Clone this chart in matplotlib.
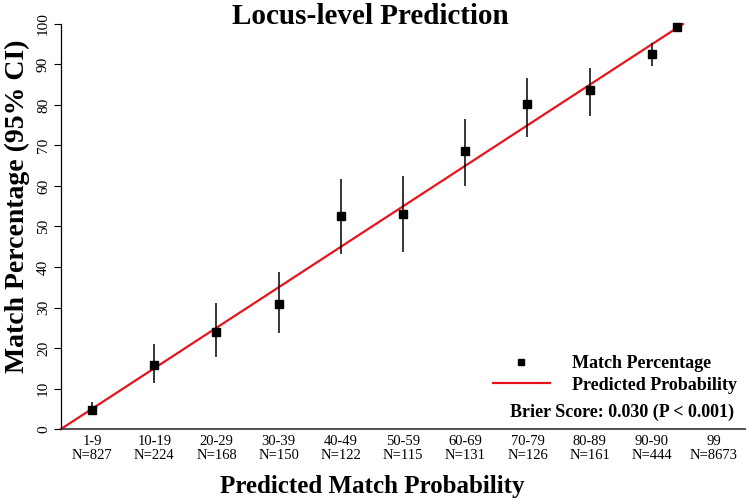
import matplotlib
matplotlib.use("Agg")
import matplotlib.pyplot as plt
from matplotlib.lines import Line2D

# ---- data ----
bin_labels = ["1-9", "10-19", "20-29", "30-39", "40-49", "50-59",
              "60-69", "70-79", "80-89", "90-90", "99"]
bin_counts = [827, 224, 168, 150, 122, 115, 131, 126, 161, 444, 8673]
pred_prob = [5, 15, 25, 35, 45, 55, 65, 75, 85, 95, 99]
match_pct = [4.6, 15.7, 24.0, 30.8, 52.6, 53.2, 68.7, 80.2, 83.7, 92.6, 99.3]
ci_low = [3.4, 11.3, 17.7, 23.6, 43.2, 43.6, 60.0, 72.2, 77.3, 89.7, 99.0]
ci_high = [6.6, 21.1, 31.0, 38.8, 61.7, 62.5, 76.5, 86.7, 89.2, 95.3, 99.6]
label_pos = [5, 15, 25, 35, 45, 55, 65, 75, 85, 95, 105]
ideal_x = [0, 100]
ideal_y = [0, 100]
y_ticks = [0, 10, 20, 30, 40, 50, 60, 70, 80, 90, 100]

plt.rcParams['font.family'] = ['Liberation Serif', 'DejaVu Serif']

fig = plt.figure(figsize=(7.46, 5.01), dpi=100)
ax = fig.add_axes([61/746, 1 - 429/501, 1 - 61/746, (429 - 24)/501])

ax.plot(ideal_x, ideal_y, color='#e8141c', lw=1.6, zorder=2, clip_on=False)
ax.vlines(pred_prob, ci_low, ci_high, color='black', lw=1.1, zorder=3)
ax.plot(pred_prob, match_pct, linestyle='none', marker='s', ms=6.2,
        color='black', zorder=4, clip_on=False)

ax.set_xlim(0, 685/6.22)
ax.set_ylim(0, 100)
ax.set_yticks(y_ticks)
ax.set_yticklabels([str(v) for v in y_ticks], rotation=90, va='center',
                   fontsize=11)
ax.tick_params(axis='y', direction='out', length=5, width=0.8, pad=3)
ax.set_xticks(label_pos)
ax.set_xticklabels([f"{l}\nN={n}" for l, n in zip(bin_labels, bin_counts)],
                   fontsize=10.5, linespacing=1.15)
ax.tick_params(axis='x', length=0, pad=4)

for s in ['top', 'right']:
    ax.spines[s].set_visible(False)
ax.spines['left'].set_linewidth(0.9)
ax.spines['bottom'].set_linewidth(1.2)
ax.spines['bottom'].set_color('#333333')

fig.text(370/746, 1 - 16/501, "Locus-level Prediction", ha='center',
         va='center', fontsize=21, fontweight='bold')
fig.text(372/746, 1 - 486/501, "Predicted Match Probability", ha='center',
         va='center', fontsize=18, fontweight='bold')
fig.text(17/746, 1 - 206/501, "Match Percentage (95% CI)", ha='center',
         va='center', rotation=90, fontsize=20, fontweight='bold')

handles = [Line2D([], [], linestyle='none', marker='s', ms=4.5, color='black'),
           Line2D([], [], color='#e8141c', lw=1.6)]
leg = ax.legend(handles, ["Match Percentage", "Predicted Probability"],
                loc='lower right', bbox_to_anchor=(1.0, 0.065), frameon=False,
                prop={'weight': 'bold', 'size': 13}, handlelength=3.2,
                handletextpad=1.2, labelspacing=0.25, borderaxespad=0.1)
ax.text(0.983, 0.042, "Brier Score: 0.030 (P < 0.001)", transform=ax.transAxes,
        ha='right', va='center', fontsize=13, fontweight='bold')

fig.savefig("out.png", dpi=100)
